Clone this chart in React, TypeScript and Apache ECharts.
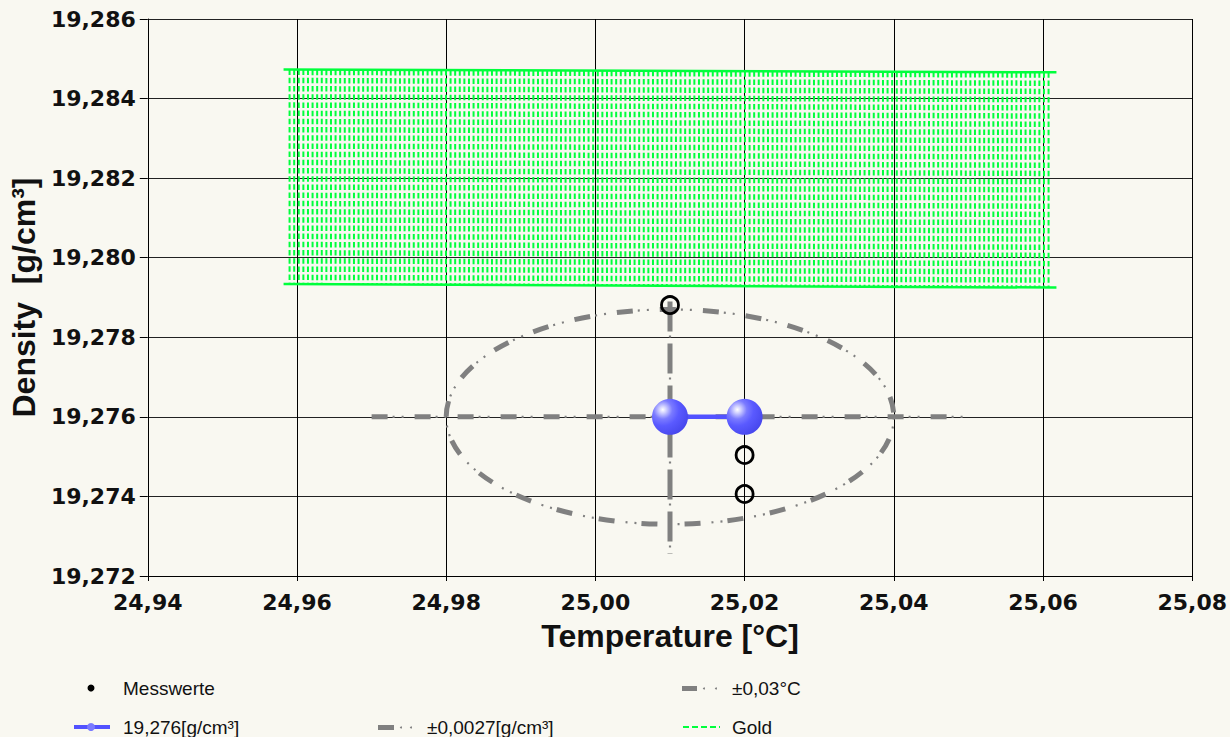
import React, { useEffect, useRef } from "react";
import * as echarts from "echarts";

// axis ranges
const xMin = 24.94;
const xMax = 25.08;
const xStep = 0.02;
const yMin = 19.272;
const yMax = 19.286;
const yStep = 0.002;

// mean value (blue)
const meanTemperature = [25.01, 25.02];
const meanDensity = [19.276, 19.276];

// measured values (open circles)
const messTemperature = [25.01, 25.02, 25.02];
const messDensity = [19.27881, 19.27504, 19.27406];

// uncertainty ellipse: centre and half axes
const ellipseCenter = [25.01, 19.276];
const ellipseHalfAxes = [0.03, 0.0027];

// uncertainty bars
const tempBarX = [24.97, 25.05];
const tempBarY = [19.276, 19.276];
const densBarX = [25.01, 25.01];
const densBarY = [19.2789, 19.27255];

// gold reference band (corners)
const goldX = [24.9582, 25.0618];
const goldTop = [19.28473, 19.28466];
const goldBottom = [19.27934, 19.27925];

const legendLabels = ["Messwerte", "19,276[g/cm³]", "±0,0027[g/cm³]", "±0,03°C", "Gold"];
const axisTitles = ["Temperature [°C]", "Density  [g/cm³]"];

const GRAY = "#808080";
const GREEN = "#00ff3c";
const BLUE = "#5252ff";

export default function App() {
  const ref = useRef<HTMLDivElement>(null);
  useEffect(() => {
    if (!ref.current) return;
    const chart = echarts.init(ref.current, undefined, { renderer: "svg" });

    const tickFont = { fontFamily: "DejaVu Sans", fontWeight: "bold" as const, fontSize: 22, color: "#111" };
    const titleFont = { fontFamily: "Liberation Sans", fontWeight: "bold" as const, fontSize: 32, color: "#111" };
    const legendFont = '19px "Liberation Sans Narrow", "Liberation Sans"';

    const option: any = {
      animation: false,
      backgroundColor: "#f9f8f1",
      grid: { left: 144, right: 36, top: 19, bottom: 161, containLabel: false },
      xAxis: {
        type: "value",
        min: xMin,
        max: xMax,
        interval: xStep,
        name: axisTitles[0],
        nameLocation: "middle",
        nameGap: 44,
        nameTextStyle: titleFont,
        axisLine: { show: true, lineStyle: { color: "#000", width: 1 } },
        axisTick: { show: true, length: 5, lineStyle: { color: "#000" } },
        axisLabel: {
          ...tickFont,
          margin: 15,
          showMinLabel: true,
          showMaxLabel: true,
          formatter: (v: number) => v.toFixed(2).replace(".", ","),
        },
        splitLine: { show: true, lineStyle: { color: "#000", width: 1 } },
      },
      yAxis: {
        type: "value",
        min: yMin,
        max: yMax,
        interval: yStep,
        name: axisTitles[1],
        nameLocation: "middle",
        nameGap: 106,
        nameTextStyle: titleFont,
        axisLine: { show: true, lineStyle: { color: "#000", width: 1 } },
        axisTick: { show: true, length: 8, lineStyle: { color: "#000" } },
        axisLabel: {
          ...tickFont,
          margin: 12,
          showMinLabel: true,
          showMaxLabel: true,
          formatter: (v: number) => v.toFixed(3).replace(".", ","),
        },
        splitLine: { show: true, lineStyle: { color: "#222", width: 1 } },
      },
      series: [
        {
          name: "Gold",
          type: "custom",
          coordinateSystem: "cartesian2d",
          z: 1,
          data: [[goldX[0], goldTop[0], goldX[1], goldTop[1], goldBottom[0], goldBottom[1]]],
          encode: { x: [0, 2], y: [1, 3, 4, 5] },
          renderItem: (params: any, api: any) => {
            const tl = api.coord([api.value(0), api.value(1)]);
            const tr = api.coord([api.value(2), api.value(3)]);
            const bl = api.coord([api.value(0), api.value(4)]);
            const br = api.coord([api.value(2), api.value(5)]);
            const children: any[] = [];
            const inset = 6;
            const step = 4.6;
            for (let x = tl[0] + inset; x <= tr[0] - inset + 0.01; x += step) {
              const t = (x - tl[0]) / (tr[0] - tl[0]);
              const yt = tl[1] + t * (tr[1] - tl[1]);
              const yb = bl[1] + t * (br[1] - bl[1]);
              children.push({
                type: "line",
                shape: { x1: x, y1: yt, x2: x, y2: yb },
                style: { stroke: GREEN, lineWidth: 2, lineDash: [5.5, 2.7] },
              });
            }
            children.push({
              type: "line",
              shape: { x1: tl[0], y1: tl[1], x2: tr[0], y2: tr[1] },
              style: { stroke: GREEN, lineWidth: 2.5 },
            });
            children.push({
              type: "line",
              shape: { x1: bl[0], y1: bl[1], x2: br[0], y2: br[1] },
              style: { stroke: GREEN, lineWidth: 2.5 },
            });
            return { type: "group", children };
          },
        },
        {
          name: "Ellipse",
          type: "custom",
          coordinateSystem: "cartesian2d",
          z: 2,
          data: [[ellipseCenter[0], ellipseCenter[1], ellipseHalfAxes[0], ellipseHalfAxes[1]]],
          encode: { x: 0, y: 1 },
          renderItem: (params: any, api: any) => {
            const c = api.coord([api.value(0), api.value(1)]);
            const s = api.size([api.value(2), api.value(3)]);
            return {
              type: "group",
              children: [
                {
                  type: "ellipse",
                  shape: { cx: c[0], cy: c[1], rx: s[0], ry: s[1] },
                  style: { fill: "none", stroke: GRAY, lineWidth: 5, lineDash: [16, 27] },
                },
                {
                  type: "ellipse",
                  shape: { cx: c[0], cy: c[1], rx: s[0], ry: s[1] },
                  style: { fill: "none", stroke: GRAY, lineWidth: 2.2, lineDash: [2, 7, 2, 32], lineDashOffset: 22 },
                },
              ],
            };
          },
        },
        {
          name: legendLabels[3],
          type: "line",
          z: 3,
          symbol: "none",
          data: tempBarX.map((x, i) => [x, tempBarY[i]]),
          lineStyle: { color: GRAY, width: 5, type: [16, 27], cap: "butt" },
        },
        {
          name: legendLabels[3] + " dots",
          type: "line",
          z: 3,
          symbol: "none",
          data: tempBarX.map((x, i) => [x, tempBarY[i]]),
          lineStyle: { color: GRAY, width: 2.2, type: [2, 7, 2, 32], dashOffset: 22, cap: "butt" },
        },
        {
          name: legendLabels[2],
          type: "line",
          z: 3,
          symbol: "none",
          data: densBarX.map((x, i) => [x, densBarY[i]]),
          lineStyle: { color: GRAY, width: 5, type: [30, 12], cap: "butt" },
        },
        {
          name: legendLabels[2] + " dots",
          type: "line",
          z: 3,
          symbol: "none",
          data: densBarX.map((x, i) => [x, densBarY[i]]),
          lineStyle: { color: GRAY, width: 2.2, type: [2, 40], dashOffset: -34, cap: "butt" },
        },
        {
          name: legendLabels[1],
          type: "line",
          z: 4,
          symbol: "circle",
          symbolSize: 36,
          data: meanTemperature.map((x, i) => [x, meanDensity[i]]),
          lineStyle: { color: BLUE, width: 4.5 },
          itemStyle: {
            opacity: 1,
            color: {
              type: "radial",
              x: 0.3,
              y: 0.3,
              r: 0.75,
              colorStops: [
                { offset: 0, color: "#ffffff" },
                { offset: 0.12, color: "#d4d4ff" },
                { offset: 0.35, color: "#7b7bff" },
                { offset: 0.6, color: "#5a5aff" },
                { offset: 1, color: "#4848ee" },
              ],
            },
          },
        },
        {
          name: legendLabels[0],
          type: "scatter",
          z: 5,
          symbol: "circle",
          symbolSize: 17,
          data: messTemperature.map((x, i) => [x, messDensity[i]]),
          itemStyle: { opacity: 1, color: "rgba(0,0,0,0)", borderColor: "#000", borderWidth: 2.8 },
        },
      ],
      graphic: [
        // row 1
        { type: "circle", shape: { cx: 91, cy: 688, r: 3.5 }, style: { fill: "#000" } },
        {
          type: "text", x: 123, y: 688,
          style: { text: legendLabels[0], font: legendFont, fill: "#111", textVerticalAlign: "middle", verticalAlign: "middle" },
        },
        { type: "rect", shape: { x: 682, y: 686, width: 15, height: 5 }, style: { fill: GRAY } },
        { type: "circle", shape: { cx: 704, cy: 688.5, r: 1 }, style: { fill: GRAY } },
        { type: "circle", shape: { cx: 716, cy: 688.5, r: 1 }, style: { fill: GRAY } },
        {
          type: "text", x: 732, y: 688,
          style: { text: legendLabels[3], font: legendFont, fill: "#111", textVerticalAlign: "middle", verticalAlign: "middle" },
        },
        // row 2
        { type: "line", shape: { x1: 74, y1: 727, x2: 110, y2: 727 }, style: { stroke: BLUE, lineWidth: 4 } },
        { type: "circle", shape: { cx: 91, cy: 727, r: 4 }, style: { fill: "#7a7aff" } },
        {
          type: "text", x: 123, y: 727,
          style: { text: legendLabels[1], font: legendFont, fill: "#111", textVerticalAlign: "middle", verticalAlign: "middle" },
        },
        { type: "rect", shape: { x: 378, y: 725, width: 16, height: 5 }, style: { fill: GRAY } },
        { type: "circle", shape: { cx: 401, cy: 727.5, r: 1 }, style: { fill: GRAY } },
        { type: "circle", shape: { cx: 411, cy: 727.5, r: 1 }, style: { fill: GRAY } },
        {
          type: "text", x: 427, y: 727,
          style: { text: legendLabels[2], font: legendFont, fill: "#111", textVerticalAlign: "middle", verticalAlign: "middle" },
        },
        { type: "line", shape: { x1: 683, y1: 727, x2: 720, y2: 727 }, style: { stroke: GREEN, lineWidth: 2, lineDash: [6, 3] } },
        {
          type: "text", x: 732, y: 727,
          style: { text: legendLabels[4], font: legendFont, fill: "#111", textVerticalAlign: "middle", verticalAlign: "middle" },
        },
      ],
    };
    chart.setOption(option);
    return () => chart.dispose();
  }, []);
  return (
    <div
      ref={ref}
      style={{ position: "fixed", left: 0, top: 0, width: 1230, height: 737 }}
    />
  );
}
